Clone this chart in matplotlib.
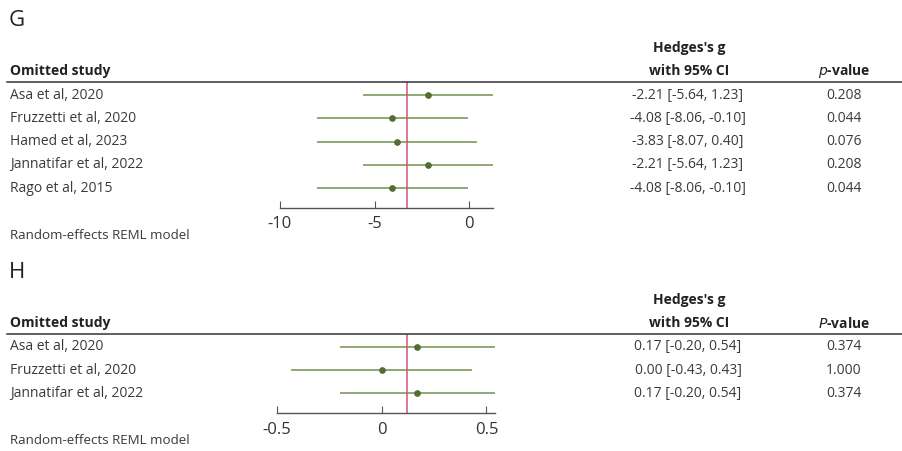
import matplotlib.pyplot as plt
from matplotlib.lines import Line2D
from matplotlib.transforms import blended_transform_factory

plt.rcParams['font.family'] = ['Open Sans', 'DejaVu Sans']
plt.rcParams['axes.unicode_minus'] = False

W, H = 903, 451

# panel G data
studies_g = ["Asa et al, 2020", "Fruzzetti et al, 2020", "Hamed et al, 2023",
             "Jannatifar et al, 2022", "Rago et al, 2015"]
g_est = [-2.21, -4.08, -3.83, -2.21, -4.08]
g_lo = [-5.64, -8.06, -8.07, -5.64, -8.06]
g_hi = [1.23, -0.10, 0.40, 1.23, -0.10]
g_p = ["0.208", "0.044", "0.076", "0.208", "0.044"]
g_overall = -3.27
g_ticks = [-10, -5, 0]

# panel H data
studies_h = ["Asa et al, 2020", "Fruzzetti et al, 2020", "Jannatifar et al, 2022"]
h_est = [0.17, 0.00, 0.17]
h_lo = [-0.20, -0.43, -0.20]
h_hi = [0.54, 0.43, 0.54]
h_p = ["0.374", "1.000", "0.374"]
h_overall = 0.12
h_ticks = [-0.5, 0, 0.5]

LINE_C = "#7d9a5e"
DOT_C = "#4f6e30"
RED_C = "#cf5579"
TXT = "#3a3a3a"

fig = plt.figure(figsize=(W / 100, H / 100), dpi=100)


def fx(px):
    return px / W


def fy(py):
    return 1 - py / H


def panel(letter, top, studies, est, lo, hi, pvals, overall, ticks, xmin, xmax,
          ax_left, ax_right, ax_bottom, pletter):
    n = len(studies)
    fig.text(fx(9), fy(top - 62), letter, fontsize=16, color="#222222",
             va="center", ha="left")
    fig.text(fx(10), fy(top - 11), "Omitted study", fontsize=10, weight="bold",
             color="#222222", va="center")
    fig.text(fx(689), fy(top - 34), "Hedges's g", fontsize=10, weight="bold",
             color="#222222", va="center", ha="center")
    fig.text(fx(689), fy(top - 11), "with 95% CI", fontsize=10, weight="bold",
             color="#222222", va="center", ha="center")
    fig.text(fx(844), fy(top - 11), "$\\mathbf{\\it{" + pletter + "}}$-value",
             fontsize=10, weight="bold", color="#222222", va="center", ha="center")
    fig.add_artist(Line2D([fx(7), fx(903)], [fy(top), fy(top)], color="#333333", lw=1.1))

    ax = fig.add_axes([fx(ax_left), fy(ax_bottom), fx(ax_right - ax_left), (ax_bottom - top) / H])
    ys = list(range(n))
    ax.hlines(ys, lo, hi, color=LINE_C, lw=1.2)
    ax.plot(est, ys, "o", color=DOT_C, ms=3.8)
    ax.axvline(overall, color=RED_C, lw=1.1)
    ax.set_xlim(xmin, xmax)
    ax.set_ylim(n - 1 + 0.86, -0.56)
    ax.set_xticks(ticks)
    ax.set_xticklabels([("%g" % t) for t in ticks])
    for s in ["top", "right", "left"]:
        ax.spines[s].set_visible(False)
    ax.spines["bottom"].set_color("#555555")
    ax.spines["bottom"].set_linewidth(1.0)
    ax.set_yticks([])
    ax.tick_params(axis="x", direction="in", length=5, color="#555555",
                   labelsize=12, labelcolor="#333333", pad=6)
    ax.patch.set_alpha(0)

    tr = blended_transform_factory(fig.transFigure, ax.transData)
    for i in range(n):
        ax.text(fx(10), i, studies[i], transform=tr, fontsize=10, color=TXT,
                va="center", ha="left", clip_on=False)
        ci = "%.2f [%.2f, %.2f]" % (est[i], lo[i], hi[i])
        ax.text(fx(688), i, ci, transform=tr, fontsize=10, color=TXT,
                va="center", ha="center", clip_on=False)
        ax.text(fx(844), i, pvals[i], transform=tr, fontsize=10, color=TXT,
                va="center", ha="center", clip_on=False)
    fig.text(fx(10), fy(ax_bottom + 27), "Random-effects REML model", fontsize=9.6,
             color=TXT, va="center", ha="left")


panel("G", 82, studies_g, g_est, g_lo, g_hi, g_p, g_overall, g_ticks, -10, 1.23,
      280, 492.7, 208, "p")
panel("H", 334, studies_h, h_est, h_lo, h_hi, h_p, h_overall, h_ticks, -0.5, 0.541,
      276.7, 495, 413.3, "P")

fig.savefig("out.png", dpi=100)
